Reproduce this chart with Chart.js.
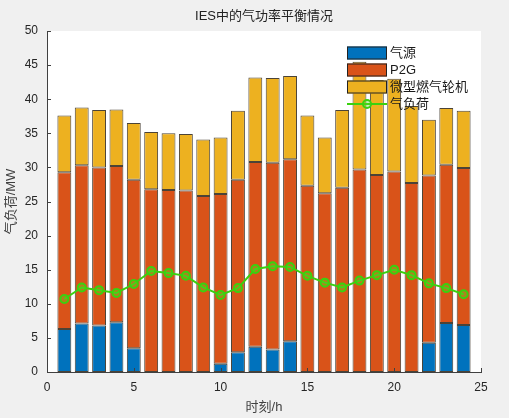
<!DOCTYPE html>
<html>
<head>
<meta charset="utf-8">
<script src="https://cdn.jsdelivr.net/npm/chart.js@4"></script>
<style>
  html, body { margin: 0; padding: 0; background: #f0f0f0; }
  #wrap { width: 509px; height: 418px; }
</style>
</head>
<body>
<div id="wrap"><canvas id="graph" width="509" height="418"></canvas></div>
<script>
const hours = [1, 2, 3, 4, 5, 6, 7, 8, 9, 10, 11, 12, 13, 14, 15, 16, 17, 18, 19, 20, 21, 22, 23, 24];
const gasSource = [6.3, 7.1, 6.8, 7.3, 3.5, 0, 0, 0, 0, 1.2, 2.9, 3.7, 3.3, 4.5, 0, 0, 0, 0, 0, 0, 0, 4.3, 7.2, 6.9];
const p2g = [23.0, 23.2, 23.2, 22.9, 24.7, 26.8, 26.7, 26.6, 25.8, 24.9, 25.3, 27.1, 27.4, 26.7, 27.3, 26.2, 27.0, 29.7, 28.9, 29.4, 27.7, 24.5, 23.2, 23.0];
const microTurbine = [8.3, 8.5, 8.4, 8.3, 8.3, 8.4, 8.3, 8.3, 8.3, 8.3, 10.1, 12.4, 12.4, 12.2, 10.3, 8.2, 11.4, 15.8, 13.9, 13.6, 11.3, 8.2, 8.3, 8.4];
const gasLoad = [10.7, 12.4, 12.0, 11.6, 12.9, 14.8, 14.5, 14.1, 12.4, 11.3, 12.3, 15.1, 15.5, 15.4, 14.1, 13.1, 12.4, 13.4, 14.2, 15.0, 14.2, 13.0, 12.3, 11.4];
const yTicks = [0, 5, 10, 15, 20, 25, 30, 35, 40, 45, 50];
const xTicks = [0, 5, 10, 15, 20, 25];

const toPoints = arr => hours.map((h, i) => ({ x: h, y: arr[i] }));
const txt = '#262626';
const fontFam = "'Liberation Sans', Arial, 'Noto Sans CJK SC', sans-serif";

// gray figure, white axes box
const background = {
  id: 'background',
  beforeDraw(chart) {
    const { ctx, chartArea: a } = chart;
    ctx.save();
    ctx.fillStyle = '#f0f0f0';
    ctx.fillRect(0, 0, chart.width, chart.height);
    ctx.fillStyle = '#ffffff';
    ctx.fillRect(a.left, a.top, a.right - a.left, a.bottom - a.top);
    ctx.restore();
  }
};

// MATLAB style inward ticks
const innerTicks = {
  id: 'innerTicks',
  afterDraw(chart) {
    const { ctx, chartArea: a, scales } = chart;
    ctx.save();
    ctx.strokeStyle = '#404040';
    ctx.lineWidth = 1;
    ctx.beginPath();
    yTicks.forEach(v => {
      const y = Math.round(scales.y.getPixelForValue(v)) + 0.5;
      ctx.moveTo(a.left, y);
      ctx.lineTo(a.left + 4, y);
    });
    xTicks.forEach(v => {
      const x = Math.round(scales.x.getPixelForValue(v)) + 0.5;
      ctx.moveTo(x, a.bottom);
      ctx.lineTo(x, a.bottom - 4);
    });
    ctx.stroke();
    ctx.restore();
  }
};

// legend inside the axes, no box
const boxLegend = {
  id: 'boxLegend',
  afterDatasetsDraw(chart) {
    const { ctx } = chart;
    const ds = chart.data.datasets;
    const entries = [ds[1], ds[2], ds[3], ds[0]];
    const x0 = 347, y0 = 53, step = 17;
    ctx.save();
    ctx.font = '13px ' + fontFam;
    ctx.textBaseline = 'middle';
    entries.forEach((d, i) => {
      const yc = y0 + i * step;
      if (d.type === 'line') {
        ctx.strokeStyle = d.borderColor;
        ctx.lineWidth = 2;
        ctx.beginPath();
        ctx.moveTo(x0, yc);
        ctx.lineTo(x0 + 40, yc);
        ctx.stroke();
        ctx.beginPath();
        ctx.arc(x0 + 20, yc, 4, 0, Math.PI * 2);
        ctx.fillStyle = d.pointBackgroundColor;
        ctx.fill();
        ctx.stroke();
      } else {
        ctx.fillStyle = d.backgroundColor;
        ctx.fillRect(x0, yc - 6.5, 40, 13);
        ctx.strokeStyle = '#222';
        ctx.lineWidth = 1;
        ctx.strokeRect(x0 + 0.5, yc - 6, 39, 12);
      }
      ctx.fillStyle = '#1a1a1a';
      ctx.fillText(d.label, x0 + 43, yc);
    });
    ctx.restore();
  }
};

const barCommon = {
  type: 'bar',
  borderColor: 'rgba(30,20,5,0.8)',
  borderWidth: c => (c.raw && c.raw.y === 0 ? 0 : 1),
  borderSkipped: false,
  categoryPercentage: 1,
  barPercentage: 0.8,
  xAxisID: 'x',
  yAxisID: 'y'
};

const data = {
  datasets: [
    {
      type: 'line',
      label: '气负荷',
      data: toPoints(gasLoad),
      borderColor: '#3ad10f',
      borderWidth: 2,
      pointRadius: 4,
      pointBorderWidth: 2,
      pointBackgroundColor: 'rgba(90,220,40,0.35)',
      pointBorderColor: '#3ad10f',
      tension: 0,
      xAxisID: 'x',
      yAxisID: 'y2'
    },
    Object.assign({}, barCommon, { label: '气源', data: toPoints(gasSource), backgroundColor: '#0072bd' }),
    Object.assign({}, barCommon, { label: 'P2G', data: toPoints(p2g), backgroundColor: '#d95319' }),
    Object.assign({}, barCommon, { label: '微型燃气轮机', data: toPoints(microTurbine), backgroundColor: '#edb120' })
  ]
};

const config = {
  type: 'bar',
  data: data,
  plugins: [background, innerTicks, boxLegend],
  options: {
    responsive: false,
    animation: false,
    events: [],
    layout: { padding: { left: 0, right: 28, top: 0, bottom: 0 } },
    plugins: {
      legend: { display: false },
      tooltip: { enabled: false },
      title: {
        display: true,
        fullSize: false,
        text: 'IES中的气功率平衡情况',
        color: '#222',
        font: { family: fontFam, size: 13, weight: 'normal' },
        padding: { top: 9, bottom: 6.4 }
      }
    },
    scales: {
      x: {
        type: 'linear',
        min: 0,
        max: 25,
        offset: false,
        stacked: true,
        afterFit: s => { s.height = 46; },
        afterBuildTicks: s => { s.ticks = xTicks.map(v => ({ value: v })); },
        grid: { display: false, drawTicks: false },
        border: { display: true, color: '#404040', width: 1 },
        ticks: { color: txt, padding: 8, maxRotation: 0, font: { family: fontFam, size: 12 } },
        title: { display: true, text: '时刻/h', color: '#404040', font: { family: fontFam, size: 13 }, padding: { top: 0, bottom: 3 } }
      },
      y: {
        min: 0,
        max: 50,
        stacked: true,
        afterFit: s => { s.width = 47; },
        afterBuildTicks: s => { s.ticks = yTicks.map(v => ({ value: v })); },
        grid: { display: false, drawTicks: false },
        border: { display: true, color: '#404040', width: 1 },
        ticks: { color: txt, padding: 9, font: { family: fontFam, size: 12 } },
        title: { display: true, text: '气负荷/MW', color: '#404040', font: { family: fontFam, size: 13 }, padding: { top: 4, bottom: 0 } }
      },
      y2: {
        display: false,
        min: 0,
        max: 50,
        stacked: false
      }
    }
  }
};

let chart = new Chart(document.getElementById('graph').getContext('2d'), config);
</script>
</body>
</html>
